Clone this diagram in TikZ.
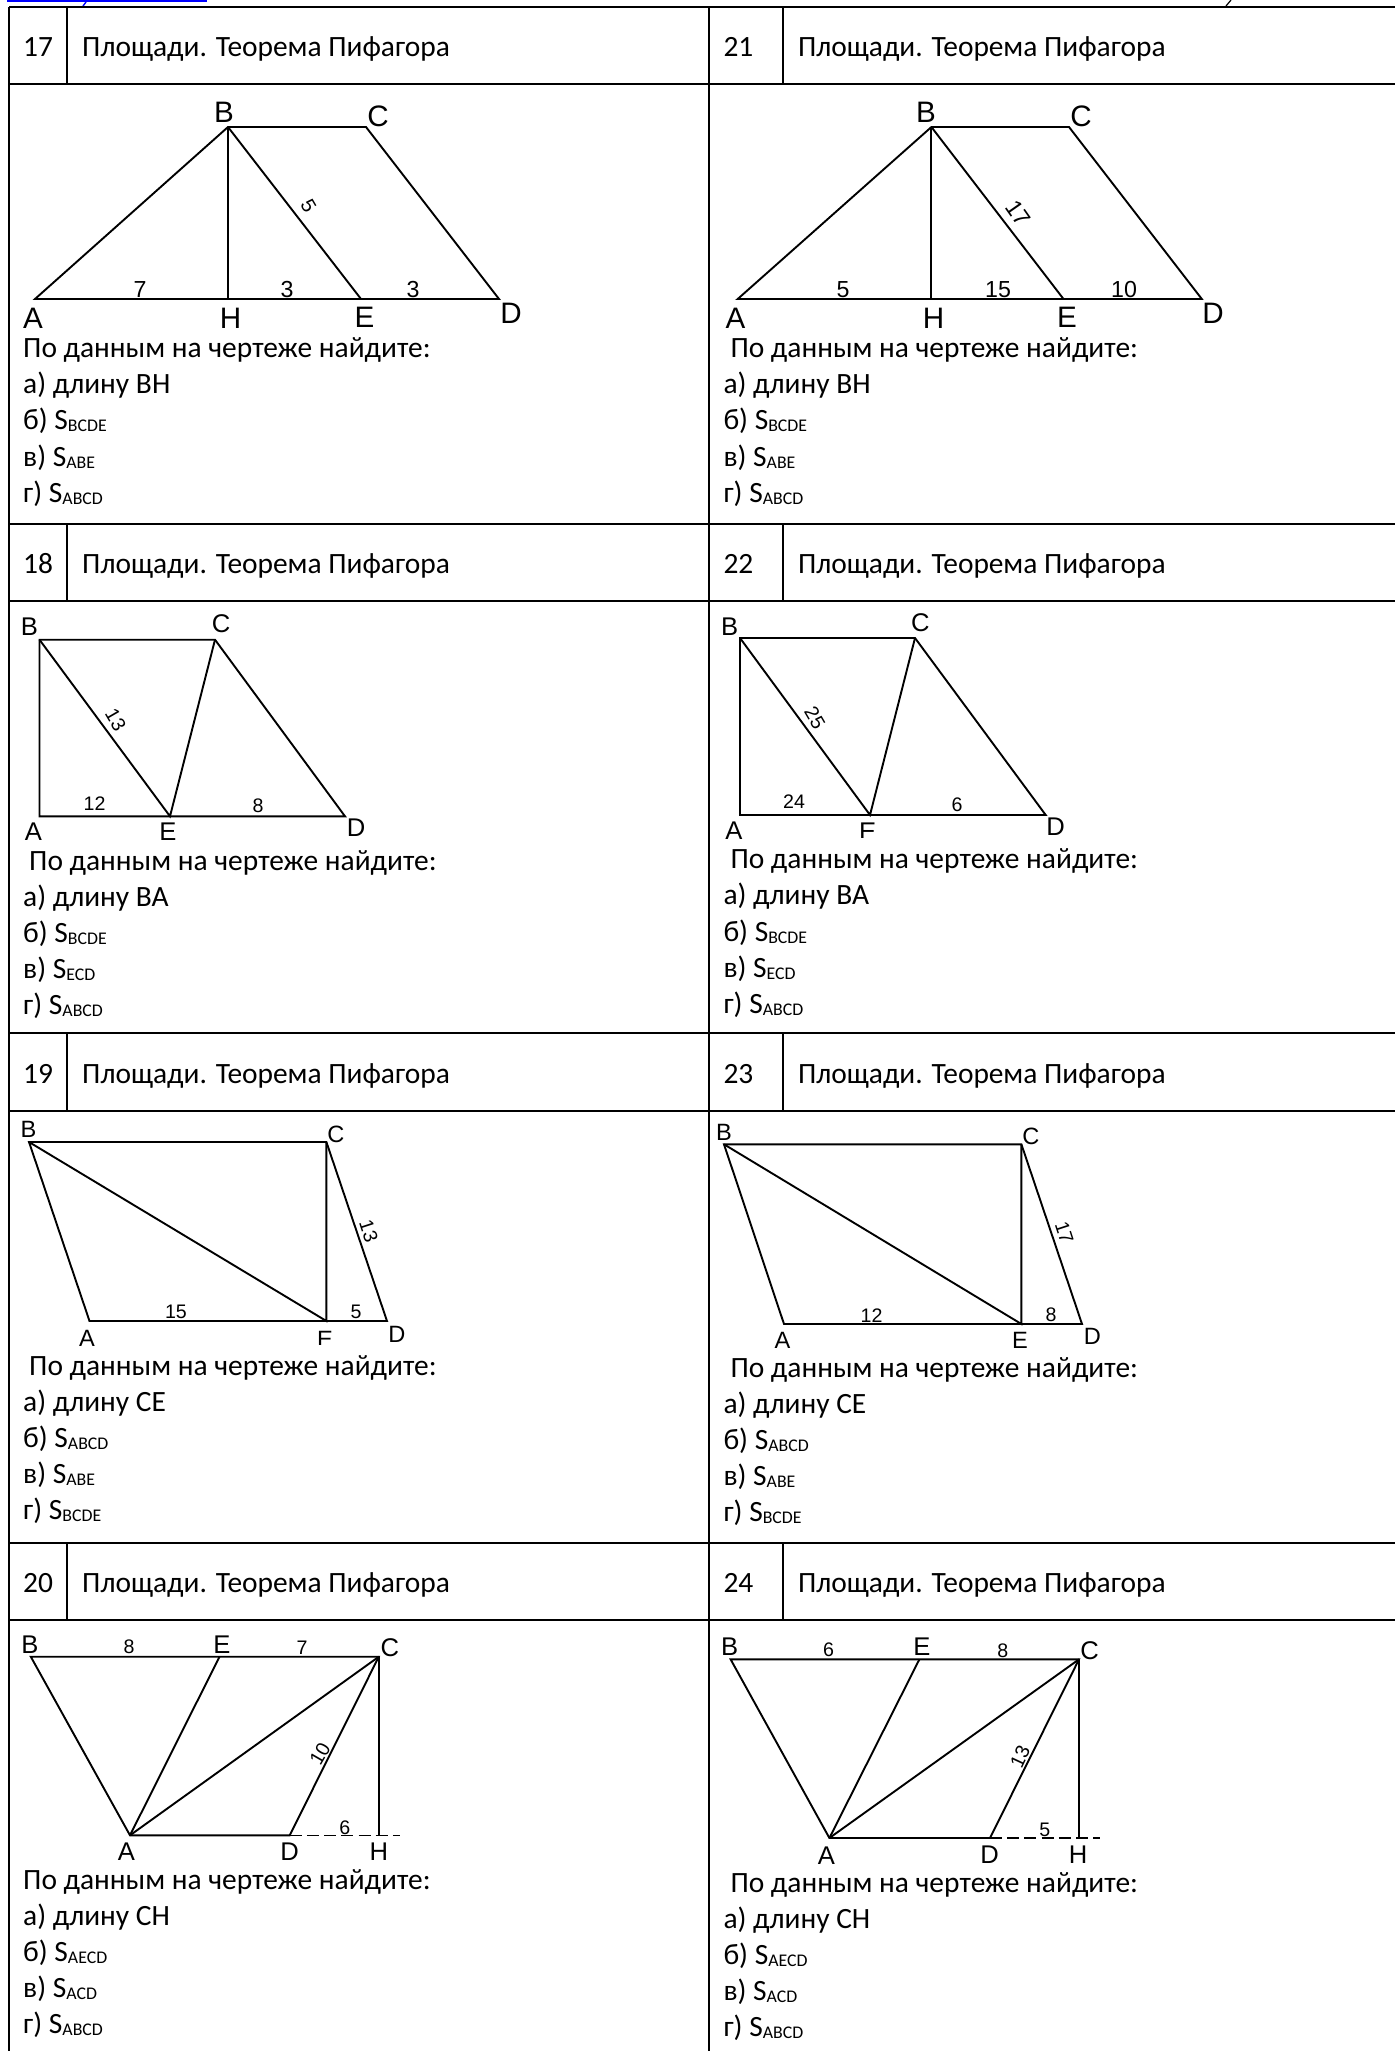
\documentclass[tikz,border=0pt]{standalone}
\usepackage{fontspec}
\setmainfont{Carlito}
\newfontfamily\arialf{Liberation Sans}
\newcommand{\bodyfnt}{\fontsize{14.72}{17}\selectfont}
\newcommand{\sbs}[1]{\raisebox{-1.1pt}{\fontsize{8.9}{11}\selectfont #1}}
\tikzset{
  x=0.5pt,y=-0.5pt,
  grid/.style={line width=1.25pt,black},
  fig/.style={line width=0.95pt,black,line join=miter},
  body/.style={anchor=base west,inner sep=0pt,xshift=-0.6pt,font=\bodyfnt},
  biglab/.style={inner sep=0pt,font=\arialf\fontsize{14.8}{17}\selectfont},
  bignum/.style={inner sep=0pt,font=\arialf\fontsize{11.6}{14}\selectfont},
  lab/.style={inner sep=0pt,font=\arialf\fontsize{12.8}{15}\selectfont},
  smlab/.style={inner sep=0pt,font=\arialf\fontsize{11.8}{14}\selectfont},
  num/.style={inner sep=0pt,font=\arialf\fontsize{9.8}{12}\selectfont},
}
\begin{document}
\begin{tikzpicture}
\useasboundingbox (0,0) rectangle (1395,2051);
\fill[white] (0,0) rectangle (1395,2051);
% top remnants
\draw[blue,line width=1.3pt] (7,1) -- (207,1);
\draw[blue,line width=0.7pt] (86,2) -- (83,6);
\draw[black,line width=0.6pt] (1231,0) -- (1226,6);
% grid
\draw[grid] (9,7) -- (9,2051);
\draw[grid] (709,7) -- (709,2051);
\draw[grid] (9,7) -- (1395,7);
\foreach \y in {84,524,601,1033,1111,1543,1620} \draw[grid] (9,\y) -- (1395,\y);
\foreach \a/\b in {7/84,524/601,1033/1111,1543/1620} {
  \draw[grid] (67,\a) -- (67,\b);
  \draw[grid] (783,\a) -- (783,\b);
}
% headers
\foreach \n/\m/\y in {17/21/56,18/22/573,19/23/1083,20/24/1592} {
  \node[body] (hl\n) at (24,\y) {\n};
  \node[body] (tl\n) at (83,\y) {Площади. Теорема Пифагора};
  \node[body] (hr\m) at (724.3,\y) {\m};
  \node[body] (tr\m) at (798.8,\y) {Площади. Теорема Пифагора};
}

% ---- 17
\coordinate (a17) at (35,299); \coordinate (b17) at (228,127); \coordinate (c17) at (366,127);
\coordinate (d17) at (499,299); \coordinate (e17) at (361,299); \coordinate (h17) at (228,299);
\draw[fig] (a17) -- (d17) -- (c17) -- (b17) -- cycle;
\draw[fig] (b17) -- (h17);
\draw[fig] (b17) -- (e17);
\node[biglab] (lb17) at (224,112.5) {B};
\node[biglab] (lc17) at (378,116) {C};
\node[biglab] (la17) at (33,318) {A};
\node[biglab] (lh17) at (230.5,318) {H};
\node[biglab] (le17) at (364.5,317) {E};
\node[biglab] (ld17) at (511,313) {D};
\node[bignum] (n17a) at (140,290) {7};
\node[bignum] (n17b) at (287,290) {3};
\node[bignum] (n17c) at (413,290) {3};
\node[bignum,rotate=-60,font=\arialf\fontsize{10}{12}\selectfont] (n17d) at (308.5,206) {5};
\node[body] (t17p) at (24,357) {По данным на чертеже найдите:};
\node[body] (t17a) at (24,393) {а) длину ВН};
\node[body] (t17b) at (24,429) {б) S\sbs{BCDE}};
\node[body] (t17c) at (24,466) {в) S\sbs{ABE}};
\node[body] (t17d) at (24,502) {г) S\sbs{ABCD}};

% ---- 21
\coordinate (a21) at (737.7,299); \coordinate (b21) at (931.4,127); \coordinate (c21) at (1069,127);
\coordinate (d21) at (1201.8,299); \coordinate (e21) at (1063.5,299); \coordinate (h21) at (931.4,299);
\draw[fig] (a21) -- (d21) -- (c21) -- (b21) -- cycle;
\draw[fig] (b21) -- (h21);
\draw[fig] (b21) -- (e21);
\node[biglab] (lb21) at (926,112.5) {B};
\node[biglab] (lc21) at (1081,116) {C};
\node[biglab] (la21) at (735.5,318) {A};
\node[biglab] (lh21) at (933.6,318) {H};
\node[biglab] (le21) at (1067,317) {E};
\node[biglab] (ld21) at (1213,313) {D};
\node[bignum] (n21a) at (843,290) {5};
\node[bignum] (n21b) at (998,290) {15};
\node[bignum] (n21c) at (1124,290) {10};
\node[bignum,rotate=-55] (n21d) at (1018,213) {17};
\node[body] (t21p) at (731.3,357) {По данным на чертеже найдите:};
\node[body] (t21a) at (724.3,393) {а) длину ВН};
\node[body] (t21b) at (724.3,429) {б) S\sbs{BCDE}};
\node[body] (t21c) at (724.3,466) {в) S\sbs{ABE}};
\node[body] (t21d) at (724.3,502) {г) S\sbs{ABCD}};

% ---- 18
\coordinate (a18) at (39.5,816.3); \coordinate (b18) at (39.5,639.7); \coordinate (c18) at (215,639.7);
\coordinate (d18) at (345,816.3); \coordinate (e18) at (170,816.3);
\draw[fig] (a18) -- (d18) -- (c18) -- (b18) -- cycle;
\draw[fig] (b18) -- (e18) -- (c18);
\node[lab] (lb18) at (29.4,626.7) {B};
\node[lab] (lc18) at (221,624) {C};
\node[lab] (la18) at (33.5,832) {A};
\node[lab] (le18) at (168,832) {E};
\node[lab] (ld18) at (356,828) {D};
\node[num] (n18a) at (94.6,804) {12};
\node[num] (n18b) at (258,806) {8};
\node[num,rotate=-60] (n18c) at (115.7,720) {13};
\node[body] (t18p) at (30,870) {По данным на чертеже найдите:};
\node[body] (t18a) at (24,906) {а) длину ВА};
\node[body] (t18b) at (24,942) {б) S\sbs{BCDE}};
\node[body] (t18c) at (24,978) {в) S\sbs{ECD}};
\node[body] (t18d) at (24,1014) {г) S\sbs{ABCD}};

% ---- 22
\coordinate (a22) at (740,815); \coordinate (b22) at (740,638); \coordinate (c22) at (915,638);
\coordinate (d22) at (1045.7,815); \coordinate (e22) at (870,815);
\draw[fig] (a22) -- (d22) -- (c22) -- (b22) -- cycle;
\draw[fig] (b22) -- (e22) -- (c22);
\node[lab] (lb22) at (729.7,626.7) {B};
\node[lab] (lc22) at (920.3,623) {C};
\node[lab] (la22) at (734,830.7) {A};
\node[lab] (le22) at (867.6,832) {E};
\fill[white] (855,838.2) rectangle (880,844);
\node[lab] (ld22) at (1055.5,827) {D};
\node[num] (n22a) at (794,802) {24};
\node[num] (n22b) at (957,805) {6};
\node[num,rotate=-60] (n22c) at (815,717.7) {25};
\node[body] (t22p) at (731.3,868) {По данным на чертеже найдите:};
\node[body] (t22a) at (724.3,904) {а) длину ВА};
\node[body] (t22b) at (724.3,941) {б) S\sbs{BCDE}};
\node[body] (t22c) at (724.3,977) {в) S\sbs{ECD}};
\node[body] (t22d) at (724.3,1013) {г) S\sbs{ABCD}};

% ---- 19
\coordinate (a19) at (89.5,1321); \coordinate (b19) at (29,1142); \coordinate (c19) at (326.4,1142);
\coordinate (d19) at (387,1321); \coordinate (e19) at (326.4,1321);
\draw[fig] (a19) -- (d19) -- (c19) -- (b19) -- cycle;
\draw[fig] (b19) -- (e19) -- (c19);
\node[smlab] (lb19) at (28.5,1129.3) {B};
\node[smlab] (lc19) at (336,1134) {C};
\node[smlab] (la19) at (87,1338.3) {A};
\node[smlab] (le19) at (325,1339) {E};
\fill[white] (312,1344.6) rectangle (338,1350);
\node[smlab] (ld19) at (397,1334) {D};
\node[num] (n19a) at (176,1312) {15};
\node[num] (n19b) at (356,1312) {5};
\node[num,rotate=-72] (n19c) at (368.7,1231) {13};
\node[body] (t19p) at (30,1375) {По данным на чертеже найдите:};
\node[body] (t19a) at (24,1411) {а) длину СЕ};
\node[body] (t19b) at (24,1447) {б) S\sbs{ABCD}};
\node[body] (t19c) at (24,1483) {в) S\sbs{ABE}};
\node[body] (t19d) at (24,1519) {г) S\sbs{BCDE}};

% ---- 23
\coordinate (a23) at (784,1324); \coordinate (b23) at (724,1144.3); \coordinate (c23) at (1021.4,1144.3);
\coordinate (d23) at (1082,1324); \coordinate (e23) at (1021.4,1324);
\draw[fig] (a23) -- (d23) -- (c23) -- (b23) -- cycle;
\draw[fig] (b23) -- (e23) -- (c23);
\node[smlab] (lb23) at (724,1132.3) {B};
\node[smlab] (lc23) at (1031,1136) {C};
\node[smlab] (la23) at (782.4,1340.7) {A};
\node[smlab] (le23) at (1020,1340.7) {E};
\node[smlab] (ld23) at (1092.3,1336.3) {D};
\node[num] (n23a) at (871.5,1315.3) {12};
\node[num] (n23b) at (1051,1315) {8};
\node[num,rotate=-72] (n23c) at (1064.4,1232.7) {17};
\node[body] (t23p) at (731.3,1377.7) {По данным на чертеже найдите:};
\node[body] (t23a) at (724.3,1413) {а) длину СЕ};
\node[body] (t23b) at (724.3,1449) {б) S\sbs{ABCD}};
\node[body] (t23c) at (724.3,1485.7) {в) S\sbs{ABE}};
\node[body] (t23d) at (724.3,1521.7) {г) S\sbs{BCDE}};

% ---- 20
\coordinate (a20) at (130,1835.3); \coordinate (b20) at (30.8,1656.7); \coordinate (c20) at (378.8,1656.7);
\coordinate (d20) at (289.7,1835.3); \coordinate (e20) at (219.5,1656.7); \coordinate (h20) at (378.8,1835.3);
\coordinate (x20) at (400.4,1835.3);
\draw[fig] (a20) -- (d20) -- (c20) -- (b20) -- cycle;
\draw[fig] (a20) -- (e20);
\draw[fig] (a20) -- (c20);
\draw[fig] (c20) -- (h20);
\draw[line width=0.7pt,dash pattern=on 6pt off 2.6pt] (d20) -- (x20);
\node[lab] (lb20) at (29.8,1644.3) {B};
\node[lab] (le20) at (222,1644.3) {E};
\node[lab] (lc20) at (389.8,1647.7) {C};
\node[lab] (la20) at (126.3,1851.7) {A};
\node[lab] (ld20) at (289.7,1851.7) {D};
\node[lab] (lh20) at (378.8,1851.7) {H};
\node[num] (n20a) at (129,1646.7) {8};
\node[num] (n20b) at (302,1647.7) {7};
\node[num] (n20c) at (344.8,1827.7) {6};
\node[num,rotate=60] (n20d) at (320,1754) {10};
\node[body] (t20p) at (24,1889.3) {По данным на чертеже найдите:};
\node[body] (t20a) at (24,1925) {а) длину СН};
\node[body] (t20b) at (24,1961) {б) S\sbs{AECD}};
\node[body] (t20c) at (24,1997.3) {в) S\sbs{ACD}};
\node[body] (t20d) at (24,2033.3) {г) S\sbs{ABCD}};

% ---- 24
\coordinate (a24) at (829.4,1838); \coordinate (b24) at (730.6,1659.3); \coordinate (c24) at (1079,1659.3);
\coordinate (d24) at (990,1838); \coordinate (e24) at (919.4,1659.3); \coordinate (h24) at (1079,1838);
\coordinate (x24) at (1100,1838);
\draw[fig] (a24) -- (d24) -- (c24) -- (b24) -- cycle;
\draw[fig] (a24) -- (e24);
\draw[fig] (a24) -- (c24);
\draw[fig] (c24) -- (h24);
\draw[line width=0.7pt,dash pattern=on 6pt off 2.6pt] (d24) -- (x24);
\node[lab] (lb24) at (729.7,1646.7) {B};
\node[lab] (le24) at (922,1646.7) {E};
\node[lab] (lc24) at (1089.6,1651) {C};
\node[lab] (la24) at (826.3,1856) {A};
\node[lab] (ld24) at (989.5,1855) {D};
\node[lab] (lh24) at (1078,1855) {H};
\node[num] (n24a) at (828.5,1650) {6};
\node[num] (n24b) at (1002.7,1650.7) {8};
\node[num] (n24c) at (1044.9,1830) {5};
\node[num,rotate=65] (n24d) at (1020,1756.7) {13};
\node[body] (t24p) at (731.3,1892.3) {По данным на чертеже найдите:};
\node[body] (t24a) at (724.3,1928.3) {а) длину СН};
\node[body] (t24b) at (724.3,1964.3) {б) S\sbs{AECD}};
\node[body] (t24c) at (724.3,2000.7) {в) S\sbs{ACD}};
\node[body] (t24d) at (724.3,2036.7) {г) S\sbs{ABCD}};
\end{tikzpicture}
\end{document}
